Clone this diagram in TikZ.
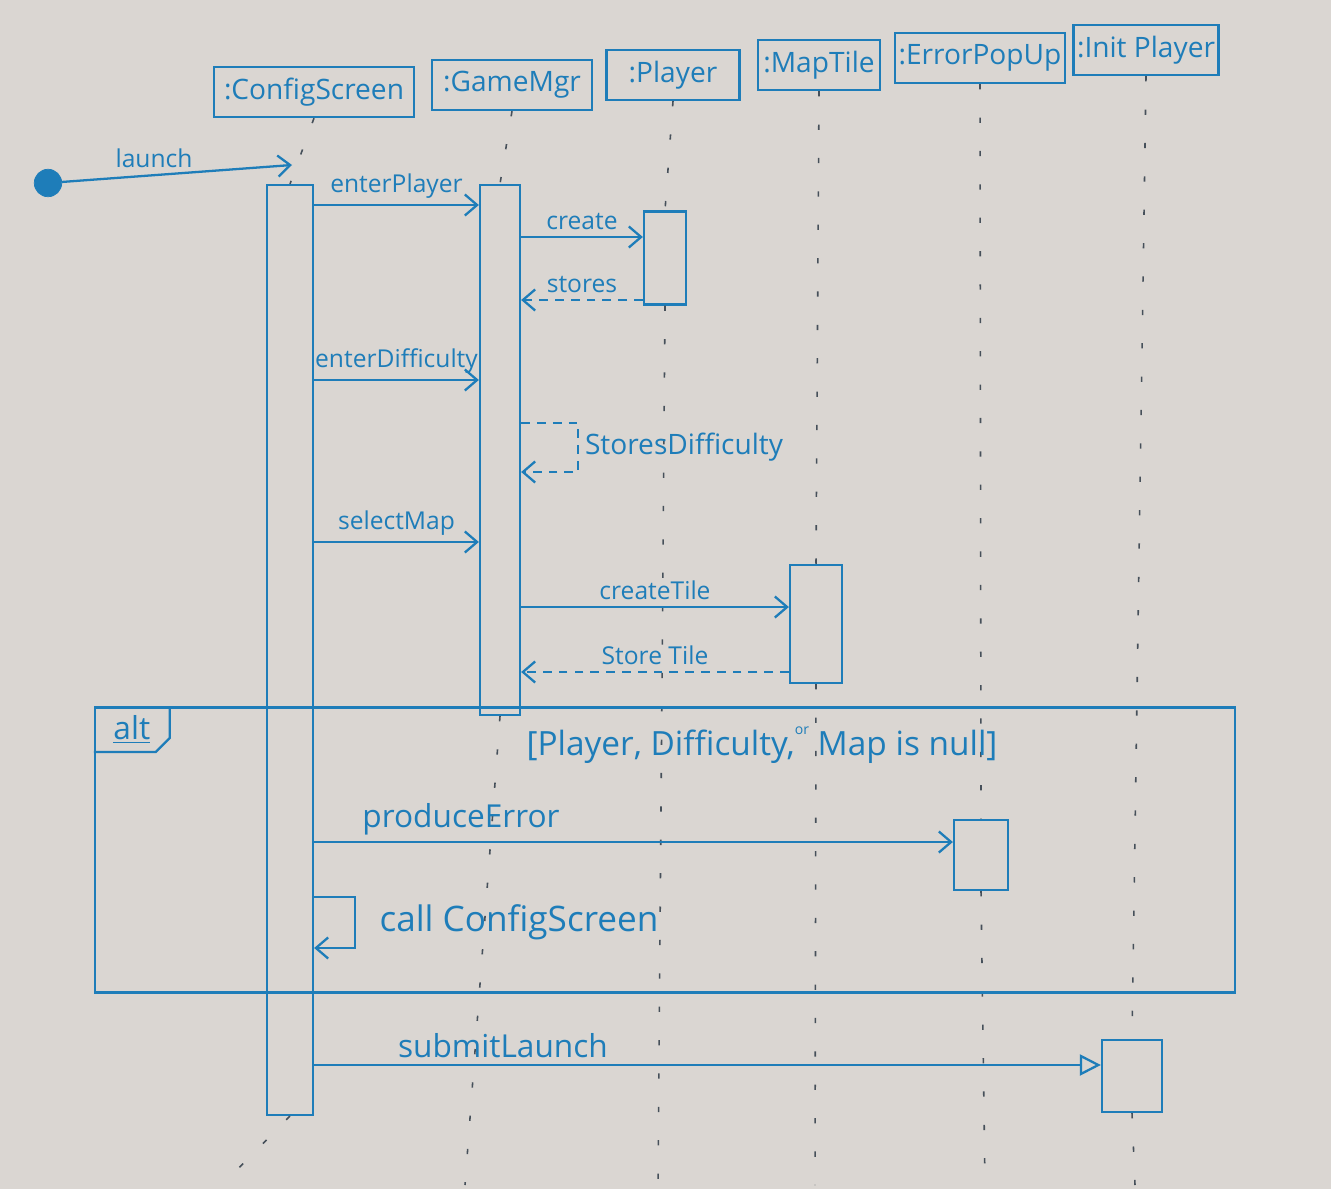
\documentclass[tikz,border=0pt]{standalone}
\usepackage{fontspec}
\setmainfont{Open Sans}
\usepackage{xcolor}
\usepackage{tikz}
\usetikzlibrary{positioning}
\usetikzlibrary{arrows.meta}

\definecolor{ink}{RGB}{30,125,185}
\definecolor{paper}{RGB}{218,214,210}
\definecolor{tick}{RGB}{70,80,90}

\tikzset{
  head/.style={draw=ink, line width=1.3pt, text=ink, minimum height=1cm, inner sep=2pt, font=\fontsize{16}{19}\selectfont},
  bar/.style={draw=ink, line width=1.3pt},
  lifeline/.style={draw=tick, line width=0.9pt, dash pattern=on 3pt off 16pt},
  msg/.style={draw=ink, line width=1.3pt, -{Straight Barb[length=7pt,width=12pt]}},
  ret/.style={msg, dash pattern=on 5pt off 4pt},
  lbl/.style={text=ink, font=\fontsize{14}{16}\selectfont},
  biglbl/.style={text=ink, font=\fontsize{18}{21}\selectfont},
}

\begin{document}
\begin{tikzpicture}[x=0.02cm, y=-0.02cm]
			\fill[paper] (0,0) rectangle (1331,1189);
			\useasboundingbox (0,0) rectangle (1331,1189);
			
			% objects
			\node[head, minimum width=4cm] (cfg) at (314,92) {:ConfigScreen};
			\node[head, minimum width=3.2cm] (mgr) at (512,85) {:GameMgr};
			\node[head, minimum width=2.66cm] (ply) at (673,75) {:Player};
			\node[head, minimum width=2.44cm] (map) at (819,65) {:MapTile};
			\node[head, minimum width=3.1cm] (err) at (980,58) {:ErrorPopUp};
			\node[head, minimum width=2.86cm] (init) at (1146,50) {:Init Player};
			
			% activations
			\node[bar, minimum width=0.92cm, minimum height=18.6cm] (cfgbar) at (290,650) {};
			\node[bar, minimum width=0.8cm, minimum height=10.6cm] (mgrbar) at (500,450) {};
			\node[bar, minimum width=0.84cm, minimum height=1.86cm] (plybar) at (665,258) {};
			\node[bar, minimum width=1.04cm, minimum height=2.36cm] (mapbar) at (816,624) {};
			\node[bar, minimum width=1.08cm, minimum height=1.4cm] (errbar) at (981,855) {};
			\node[bar, minimum width=1.2cm, minimum height=1.44cm] (initbar) at (1132,1076) {};
			
			% lifelines
			\coordinate (cfgend) at (222,1185);
			\coordinate (mgrend) at (465,1185);
			\coordinate (plyend) at (658,1185);
			\coordinate (mapend) at (815,1185);
			\coordinate (errend) at (985,1185);
			\coordinate (initend) at (1135,1185);
			\draw[lifeline] (cfg.south) -- (cfgbar.north);
			\draw[lifeline] (cfgbar.south) -- (cfgend);
			\draw[lifeline] (mgr.south) -- (mgrbar.north);
			\draw[lifeline] (mgrbar.south) -- (mgrend);
			\draw[lifeline] (ply.south) -- (plybar.north);
			\draw[lifeline] (plybar.south) -- (plyend);
			\draw[lifeline] (map.south) -- (mapbar.north);
			\draw[lifeline] (mapbar.south) -- (mapend);
			\draw[lifeline] (err.south) -- (errbar.north);
			\draw[lifeline] (errbar.south) -- (errend);
			\draw[lifeline] (init.south) -- (initbar.north);
			\draw[lifeline] (initbar.south) -- (initend);
			
			% start
			\node[circle, fill=ink, draw=ink, minimum size=0.55cm, inner sep=0pt] (start) at (48,183) {};
			\coordinate (launchend) at (292,165);
			\draw[msg] (start) -- node[lbl, above, pos=0.4]{launch} (launchend);
			
			% messages
			\draw[msg] (cfgbar.east |- 0,205) -- node[lbl, above]{enterPlayer} (mgrbar.west |- 0,205);
			\draw[msg] (mgrbar.east |- 0,237) -- node[lbl, above]{create} (plybar.west |- 0,237);
			\draw[ret] (plybar.west |- 0,300) -- node[lbl, above]{stores} (mgrbar.east |- 0,300);
			\draw[msg] (cfgbar.east |- 0,380) -- node[lbl, above]{enterDifficulty} (mgrbar.west |- 0,380);
			\draw[ret] (mgrbar.east |- 0,423) -- (578,423) -- node[lbl, right, font=\fontsize{16}{19}\selectfont]{StoresDifficulty} (578,472) -- (mgrbar.east |- 0,472);
			\draw[msg] (cfgbar.east |- 0,542) -- node[lbl, above]{selectMap} (mgrbar.west |- 0,542);
			\draw[msg] (mgrbar.east |- 0,607) -- node[lbl, above]{createTile} (mapbar.west |- 0,607);
			\draw[ret] (mapbar.west |- 0,672) -- node[lbl, above]{Store Tile} (mgrbar.east |- 0,672);
			
			% alt fragment
			\node[draw=ink, line width=1.3pt, minimum width=22.8cm, minimum height=5.7cm] (altframe) at (665,850) {};
			\node[biglbl, anchor=north west, minimum width=1.5cm, minimum height=0.9cm] (alttag) at (altframe.north west) {\underline{alt}};
			\draw[ink, line width=1.3pt] (alttag.north east) -- ([yshift=8pt]alttag.south east) -- ([xshift=-8pt]alttag.south east) -- (alttag.south west);
			\node[biglbl, font=\fontsize{19}{22}\selectfont] (guard) at (762,745) {[Player, Difficulty,\raisebox{1.2ex}{\footnotesize or} Map is null]};
			
			\draw[msg] (cfgbar.east |- 0,842) -- node[biglbl, above, pos=0.23]{produceError} (errbar.west |- 0,842);
			\draw[msg] (cfgbar.east |- 0,897) -- (355,897) -- node[biglbl, right, xshift=10pt, font=\fontsize{20}{23}\selectfont]{call ConfigScreen} (355,948) -- (cfgbar.east |- 0,948);
			
			\draw[ink, line width=1.3pt, -{Triangle[open, length=12pt, width=12pt]}] (cfgbar.east |- 0,1065) -- node[biglbl, above, pos=0.24]{submitLaunch} (initbar.west |- 0,1065);
\end{tikzpicture}
\end{document}
